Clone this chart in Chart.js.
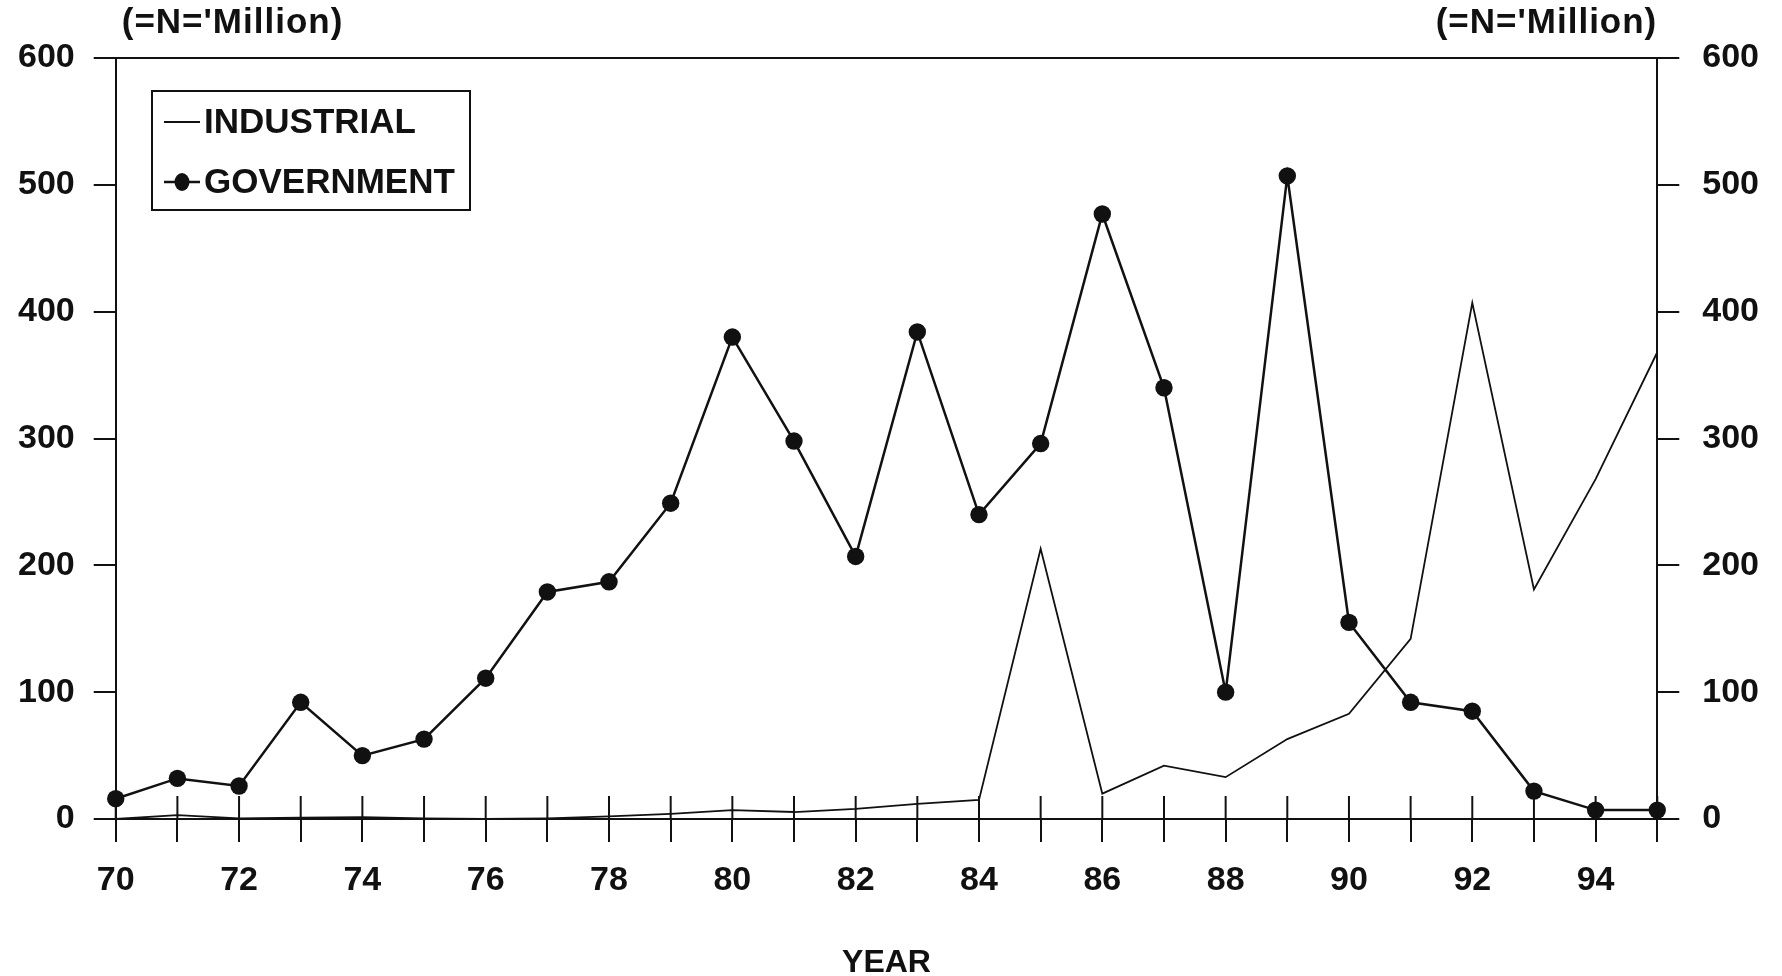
<!DOCTYPE html>
<html><head><meta charset="utf-8">
<script src="https://cdn.jsdelivr.net/npm/chart.js@4.4.1/dist/chart.umd.min.js"></script>
<style>html,body{margin:0;padding:0;background:#fff;}#wrap{width:1782px;height:976px;}</style>
</head><body><div id="wrap"><canvas id="c" width="1782" height="976"></canvas></div>
<script>
// ---- data ----
const years = ['70','71','72','73','74','75','76','77','78','79','80','81','82','83','84','85','86','87','88','89','90','91','92','93','94','95'];
const xTickLabels = ['70','72','74','76','78','80','82','84','86','88','90','92','94'];
const industrial = [0,3,0.5,1,1.5,0.5,0,0.5,2,4,7,5.5,8,12,15,213,20,42,33,63,83,142,407,181,268,368];
const government = [16,32,26,92,50,63,111,179,187,249,380,298,207,384,240,296,477,340,100,507,155,92,85,22,7,7];
const yTickValues = [0,100,200,300,400,500,600];
const unitLabel = "(=N='Million)";
const xAxisTitle = 'YEAR';
const seriesNames = ['INDUSTRIAL','GOVERNMENT'];

const FONT = 'Liberation Sans, Arial, Helvetica, sans-serif';
const BLACK = '#111';

const decorPlugin = {
  id: 'decor',
  afterDraw(chart) {
    const ctx = chart.ctx;
    const area = chart.chartArea;
    const xs = chart.scales.x;
    ctx.save();
    // upper half of x tick marks crossing the zero line
    ctx.strokeStyle = BLACK;
    ctx.lineWidth = 2;
    xs.ticks.forEach((t, i) => {
      const px = xs.getPixelForTick(i);
      ctx.beginPath();
      ctx.moveTo(px, area.bottom - 23);
      ctx.lineTo(px, area.bottom);
      ctx.stroke();
    });
    // unit labels
    ctx.fillStyle = BLACK;
    ctx.font = 'bold 35px ' + FONT;
    ctx.letterSpacing = '1px';
    ctx.textBaseline = 'middle';
    ctx.textAlign = 'left';
    ctx.fillText(unitLabel, area.left + 6, 23);
    ctx.textAlign = 'right';
    ctx.fillText(unitLabel, area.right, 23);
    // legend
    const lx = 152, ly = 91, lw = 318, lh = 119;
    ctx.lineWidth = 2;
    ctx.strokeRect(lx, ly, lw, lh);
    ctx.font = 'bold 35px ' + FONT;
    ctx.letterSpacing = '0px';
    ctx.textAlign = 'left';
    const rows = [122, 182];
    chart.data.datasets.forEach((ds, i) => {
      const y = rows[i];
      ctx.strokeStyle = ds.borderColor;
      ctx.lineWidth = ds.borderWidth;
      ctx.beginPath();
      ctx.moveTo(164, y);
      ctx.lineTo(200, y);
      ctx.stroke();
      if (ds.pointRadius > 0) {
        ctx.fillStyle = ds.pointBackgroundColor;
        ctx.beginPath();
        ctx.ellipse(182, y, 7.5, 9, 0, 0, Math.PI * 2);
        ctx.fill();
      }
      ctx.fillStyle = BLACK;
      ctx.fillText(ds.label, 204, y + 1);
    });
    ctx.restore();
  }
};

new Chart(document.getElementById('c'), {
  type: 'line',
  data: {
    labels: years,
    datasets: [
      {
        label: seriesNames[0],
        data: industrial,
        borderColor: BLACK,
        borderWidth: 1.8,
        pointRadius: 0,
        tension: 0,
        yAxisID: 'y'
      },
      {
        label: seriesNames[1],
        data: government,
        borderColor: BLACK,
        borderWidth: 2.5,
        pointRadius: 8.7,
        pointStyle: 'circle',
        pointBackgroundColor: BLACK,
        pointBorderColor: BLACK,
        pointBorderWidth: 0,
        tension: 0,
        yAxisID: 'y'
      }
    ]
  },
  options: {
    responsive: false,
    animation: false,
    devicePixelRatio: 1,
    layout: { padding: { left: -1, right: 0, top: 58, bottom: 0 } },
    plugins: { legend: { display: false }, tooltip: { enabled: false }, title: { display: false } },
    scales: {
      x: {
        type: 'category',
        offset: false,
        grid: { display: true, drawOnChartArea: false, drawTicks: true, tickLength: 23, color: BLACK, lineWidth: 2, offset: false },
        border: { display: false },
        ticks: {
          autoSkip: false, maxRotation: 0, padding: 18, color: BLACK,
          font: { family: FONT, weight: 'bold', size: 34 },
          callback: function(v, i) { const l = this.getLabelForValue(v); return xTickLabels.includes(l) ? l : ''; }
        },
        title: { display: true, text: xAxisTitle, color: BLACK, font: { family: FONT, weight: 'bold', size: 32, lineHeight: 0.8 }, padding: { top: 31.6, bottom: 0 } }
      },
      y: {
        position: 'left', min: 0, max: 600,
        afterBuildTicks: (s) => { s.ticks = yTickValues.map(v => ({ value: v })); },
        grid: {
          drawOnChartArea: true, drawTicks: true, tickLength: 22, lineWidth: 2,
          color: (c) => (c.tick && (c.tick.value === 0 || c.tick.value === 600)) ? BLACK : 'rgba(0,0,0,0)',
          tickColor: BLACK
        },
        border: { display: true, color: BLACK, width: 2 },
        ticks: { padding: 19, color: BLACK, font: { family: FONT, weight: 'bold', size: 34 } }
      },
      y2: {
        position: 'right', min: 0, max: 600,
        afterBuildTicks: (s) => { s.ticks = yTickValues.map(v => ({ value: v })); },
        grid: { drawOnChartArea: false, drawTicks: true, tickLength: 22, lineWidth: 2, color: BLACK, tickColor: BLACK },
        border: { display: true, color: BLACK, width: 2 },
        ticks: { padding: 23, color: BLACK, font: { family: FONT, weight: 'bold', size: 34 } }
      }
    }
  },
  plugins: [decorPlugin]
});
</script>
</body></html>
